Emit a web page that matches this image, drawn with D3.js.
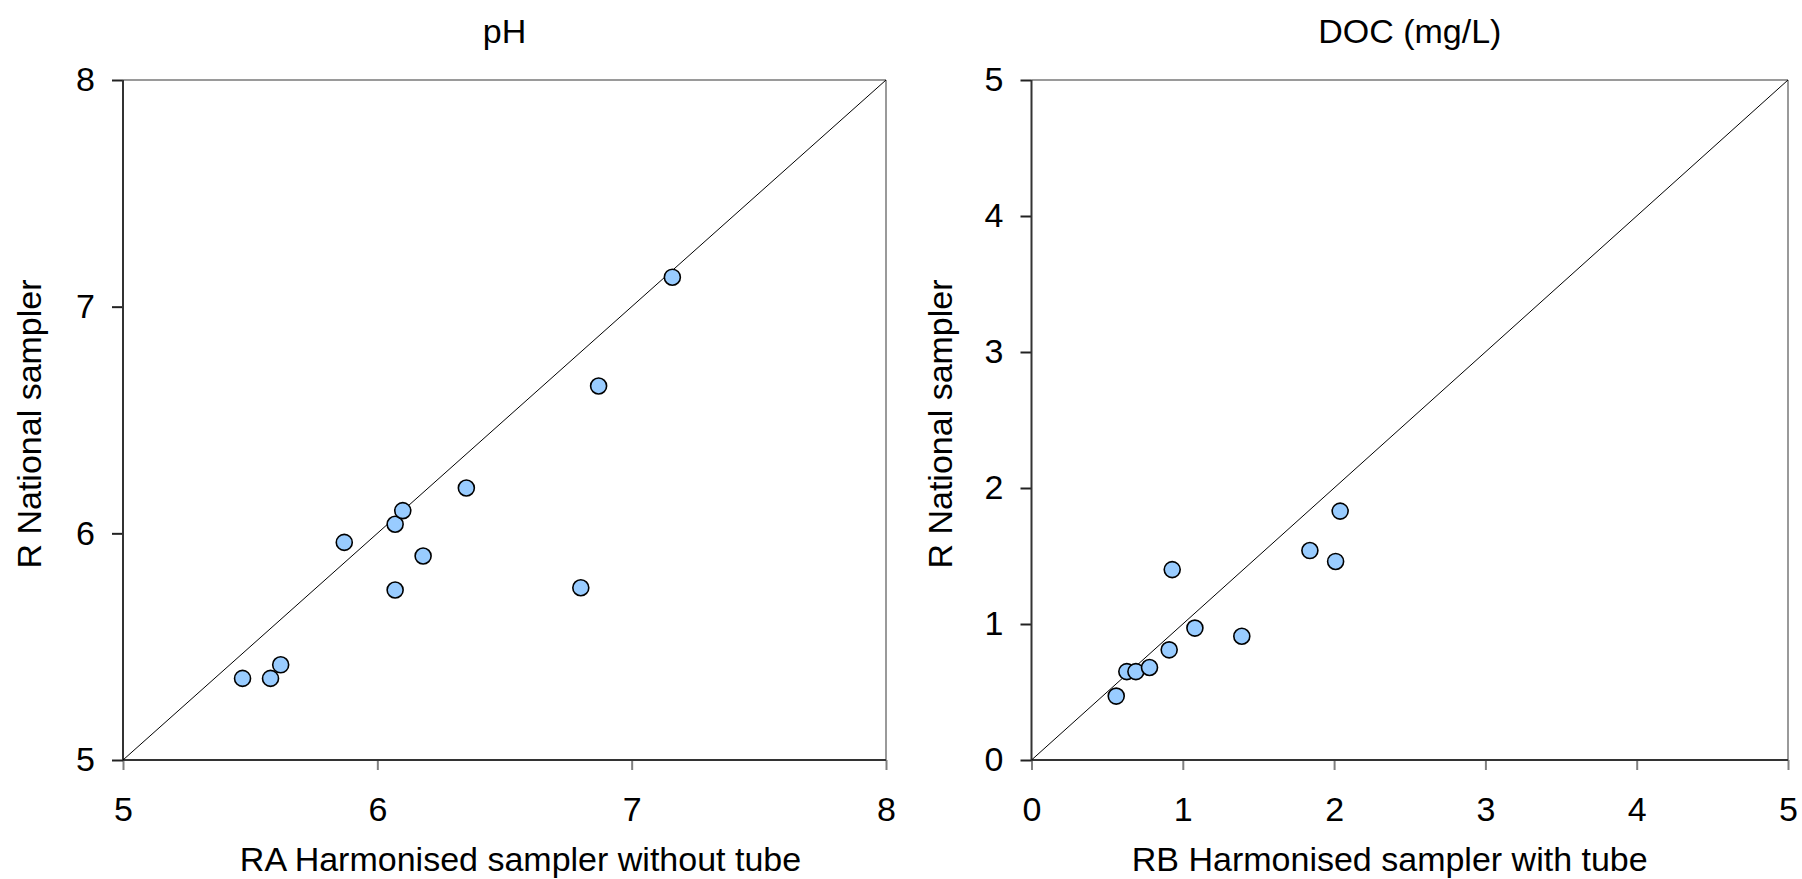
<!DOCTYPE html>
<html>
<head>
<meta charset="utf-8">
<script src="https://cdn.jsdelivr.net/npm/d3@7"></script>
<style>
    body { margin: 0; background: #fff; }
    svg text { font-family: "Liberation Sans", Arial, sans-serif; fill: #000; }
</style>
</head>
<body>
<svg id="chart" width="1802" height="879"></svg>
<script>
// pH panel
var phTitle = 'pH';
var phXLabel = 'RA Harmonised sampler without tube';
var phX = [5.47, 5.58, 5.62, 5.87, 6.07, 6.10, 6.07, 6.18, 6.35, 6.80, 6.87, 7.16];
var phY = [5.36, 5.36, 5.42, 5.96, 6.04, 6.10, 5.75, 5.90, 6.20, 5.76, 6.65, 7.13];
var phTicks = [5, 6, 7, 8];

// DOC panel
var docTitle = 'DOC (mg/L)';
var docXLabel = 'RB Harmonised sampler with tube';
var docX = [0.56, 0.63, 0.69, 0.78, 0.91, 0.93, 1.08, 1.39, 1.84, 2.01, 2.04];
var docY = [0.47, 0.65, 0.65, 0.68, 0.81, 1.40, 0.97, 0.91, 1.54, 1.46, 1.83];
var docTicks = [0, 1, 2, 3, 4, 5];

var yLabel = 'R National sampler';

var svg = d3.select('#chart');
var fontSize = 34;

var drawPanel = function(opt) {
    var x = d3.scaleLinear().domain(opt.domain).range([opt.left, opt.right]);
    var y = d3.scaleLinear().domain(opt.domain).range([opt.bottom, opt.top]);
    var g = svg.append('g');

    // frame: top and right in grey
    g.append('line')
        .attr('x1', opt.left).attr('x2', opt.right)
        .attr('y1', opt.top).attr('y2', opt.top)
        .attr('stroke', '#9a9a9a').attr('stroke-width', 2);
    g.append('line')
        .attr('x1', opt.right).attr('x2', opt.right)
        .attr('y1', opt.top).attr('y2', opt.bottom)
        .attr('stroke', '#9a9a9a').attr('stroke-width', 2);

    // x axis, ticks go down in grey
    var xAxis = g.append('g')
        .attr('transform', 'translate(0,' + opt.bottom + ')')
        .call(d3.axisBottom(x).tickValues(opt.ticks).tickSize(10).tickPadding(27).tickFormat(d3.format('d')));
    xAxis.select('.domain').remove();
    xAxis.selectAll('.tick line').attr('stroke', '#808080').attr('stroke-width', 2);
    xAxis.selectAll('.tick text').attr('font-size', fontSize).attr('font-family', null);

    // y axis
    var yAxis = g.append('g')
        .attr('transform', 'translate(' + opt.left + ',0)')
        .call(d3.axisLeft(y).tickValues(opt.ticks).tickSize(11).tickPadding(17).tickFormat(d3.format('d')));
    yAxis.select('.domain').remove();
    yAxis.selectAll('.tick line').attr('stroke', '#222').attr('stroke-width', 2);
    yAxis.selectAll('.tick text').attr('font-size', fontSize).attr('font-family', null);

    // left and bottom axis lines
    g.append('line')
        .attr('x1', opt.left).attr('x2', opt.right)
        .attr('y1', opt.bottom).attr('y2', opt.bottom)
        .attr('stroke', '#333').attr('stroke-width', 2);
    g.append('line')
        .attr('x1', opt.left).attr('x2', opt.left)
        .attr('y1', opt.top).attr('y2', opt.bottom)
        .attr('stroke', '#333').attr('stroke-width', 2);

    // 1:1 line
    g.append('line')
        .attr('x1', x(opt.domain[0])).attr('y1', y(opt.domain[0]))
        .attr('x2', x(opt.domain[1])).attr('y2', y(opt.domain[1]))
        .attr('stroke', '#000').attr('stroke-width', 1);

    var pts = opt.xs.map(function(d, i) { return [d, opt.ys[i]]; });
    g.selectAll('circle').data(pts).enter().append('circle')
        .attr('cx', function(d) { return x(d[0]); })
        .attr('cy', function(d) { return y(d[1]); })
        .attr('r', 8)
        .attr('fill', '#99ccff')
        .attr('stroke', '#000')
        .attr('stroke-width', 1.6);

    var cx = (opt.left + opt.right) / 2;
    g.append('text')
        .attr('x', cx).attr('y', 43)
        .attr('text-anchor', 'middle')
        .attr('font-size', fontSize)
        .text(opt.title);
    g.append('text')
        .attr('x', cx + opt.xLabelShift).attr('y', 871)
        .attr('text-anchor', 'middle')
        .attr('font-size', fontSize)
        .text(opt.xLabel);
    g.append('text')
        .attr('transform', 'translate(' + opt.yLabelX + ',424) rotate(-90)')
        .attr('text-anchor', 'middle')
        .attr('font-size', fontSize)
        .text(yLabel);
};

drawPanel({
    left: 123, right: 886, top: 80, bottom: 760,
    domain: [5, 8], ticks: phTicks,
    xs: phX, ys: phY,
    title: phTitle, xLabel: phXLabel, xLabelShift: 16, yLabelX: 41
});

drawPanel({
    left: 1031.5, right: 1788, top: 80, bottom: 760,
    domain: [0, 5], ticks: docTicks,
    xs: docX, ys: docY,
    title: docTitle, xLabel: docXLabel, xLabelShift: -20, yLabelX: 952
});
</script>
</body>
</html>
